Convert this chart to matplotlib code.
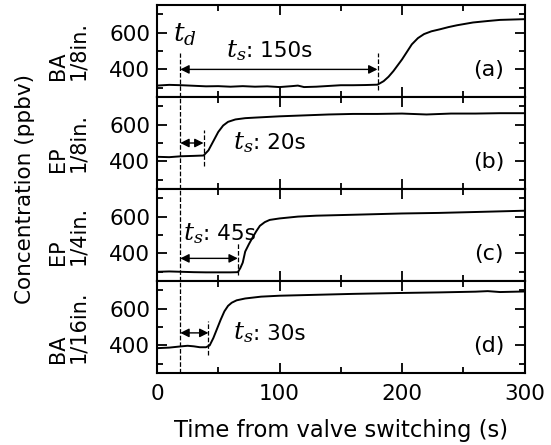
"""
Response time of concentration after valve switching (4 panels)
"""

import matplotlib
matplotlib.use('Agg')
import matplotlib.pyplot as plt
from matplotlib.ticker import MultipleLocator

plt.rcParams['font.family'] = ['DejaVu Sans']
plt.rcParams['mathtext.fontset'] = 'dejavuserif'

# --- data ---
time_a = [0, 10, 20, 30, 40, 50, 60, 70, 80, 90, 100, 110, 115, 120, 130, 140, 150, 160,
          170, 180, 185, 189, 193, 200, 208, 213, 218, 224, 231, 238, 245, 258, 270,
          280, 300]
conc_a = [312, 316, 314, 311, 308, 309, 306, 309, 306, 308, 304, 309, 312, 304, 306, 310,
          314, 314, 315, 317, 336, 360, 391, 454, 536, 570, 592, 607, 618, 630, 640, 655,
          663, 669, 673]

time_b = [0, 10, 20, 30, 38, 42, 46, 50, 54, 58, 64, 72, 80, 100, 120, 140, 160, 180,
          200, 220, 240, 260, 280, 300]
conc_b = [425, 423, 428, 430, 432, 460, 510, 560, 595, 615, 628, 635, 638, 645, 650, 655,
          658, 658, 660, 655, 660, 660, 662, 662]

time_c = [0, 10, 20, 30, 40, 50, 60, 66, 68, 70, 72, 75, 78, 81, 84, 88, 92, 100, 115,
          130, 160, 200, 230, 260, 300]
conc_c = [300, 302, 300, 298, 297, 297, 297, 298, 320, 350, 410, 450, 486, 520, 550, 570,
          582, 590, 600, 605, 610, 617, 620, 625, 632]

time_d = [0, 10, 20, 25, 30, 35, 40, 43, 46, 49, 52, 55, 58, 61, 65, 72, 85, 100, 130,
          160, 200, 230, 260, 270, 280, 300]
conc_d = [385, 388, 395, 398, 395, 390, 390, 400, 440, 490, 540, 585, 615, 632, 645, 655,
          665, 670, 675, 680, 685, 688, 692, 695, 690, 693]

panel_names = ['BA\n1/8in.', 'EP\n1/8in.', 'EP\n1/4in.', 'BA\n1/16in.']
panel_tags = ['(a)', '(b)', '(c)', '(d)']
t_delay = 19
t_end = [180, 38, 66, 42]          # end of t_s interval
ts_values = [': 150s', ': 20s', ': 45s', ': 30s']
ts_pos = [(56, 505), (62, 504), (21, 510), (62, 468)]
arrow_y = [400, 500, 373, 468]
mark_span = [(290, 490), (375, 570), (280, 460), (350, 535)]

series = [(time_a, conc_a), (time_b, conc_b), (time_c, conc_c), (time_d, conc_d)]

fig = plt.figure(figsize=(5.51, 4.45), dpi=100)
left, right = 157 / 551, 524.5 / 551
top, bottom = 1 - 5 / 445, 1 - 373 / 445
h = (top - bottom) / 4

fs = 15.5
axes = []
for i in range(4):
    ax = fig.add_axes([left, top - (i + 1) * h, right - left, h])
    axes.append(ax)
    t, c = series[i]
    ax.plot(t, c, color='k', lw=1.4)
    ax.set_xlim(0, 300)
    ax.set_ylim(250, 750)
    ax.xaxis.set_major_locator(MultipleLocator(100))
    ax.xaxis.set_minor_locator(MultipleLocator(50))
    ax.yaxis.set_major_locator(MultipleLocator(200))
    ax.yaxis.set_minor_locator(MultipleLocator(100))
    ax.tick_params(which='both', direction='in', top=True, right=True, width=1.3,
                   labelsize=fs)
    ax.tick_params(which='major', length=7, pad=5)
    ax.tick_params(which='minor', length=4.5)
    ax.tick_params(axis='x', which='major', length=7.5, pad=8)
    for s in ax.spines.values():
        s.set_linewidth(1.5)
    if i < 3:
        ax.tick_params(labelbottom=False)
    ax.set_ylabel(panel_names[i], fontsize=15, multialignment='left', linespacing=1.0)
    ax.yaxis.set_label_coords(-0.188, 0.5)
    ax.text(271, 395, panel_tags[i], fontsize=16, ha='center', va='center')

    # dashed markers, arrow and t_s label
    if i == 0:
        ax.plot([t_delay, t_delay], [250, 490], 'k--', lw=0.9)
    else:
        ax.plot([t_delay, t_delay], [250, 750], 'k--', lw=0.9)
    ax.plot([t_end[i], t_end[i]], mark_span[i], 'k--', lw=0.9)
    ax.annotate('', xy=(t_end[i], arrow_y[i]), xytext=(t_delay, arrow_y[i]),
                arrowprops=dict(arrowstyle='<|-|>', color='k', lw=1, shrinkA=0,
                                shrinkB=0, mutation_scale=13))
    sym = ax.text(ts_pos[i][0], ts_pos[i][1], '$t_s$', fontsize=18, ha='left',
                  va='center')
    ax.annotate(ts_values[i], xy=(1, 0.5), xycoords=sym, xytext=(0, -0.5),
                textcoords='offset points', fontsize=15.5, ha='left', va='center')

axes[0].text(23, 590, '$t_d$', fontsize=19, ha='center', va='center')
axes[3].set_xlabel('Time from valve switching (s)', fontsize=16.3, labelpad=11)

fig.text(25 / 551, 1 - 189 / 445, 'Concentration (ppbv)', fontsize=fs, rotation=90,
         ha='center', va='center')

fig.savefig('out.png', dpi=100)
plt.close(fig)
